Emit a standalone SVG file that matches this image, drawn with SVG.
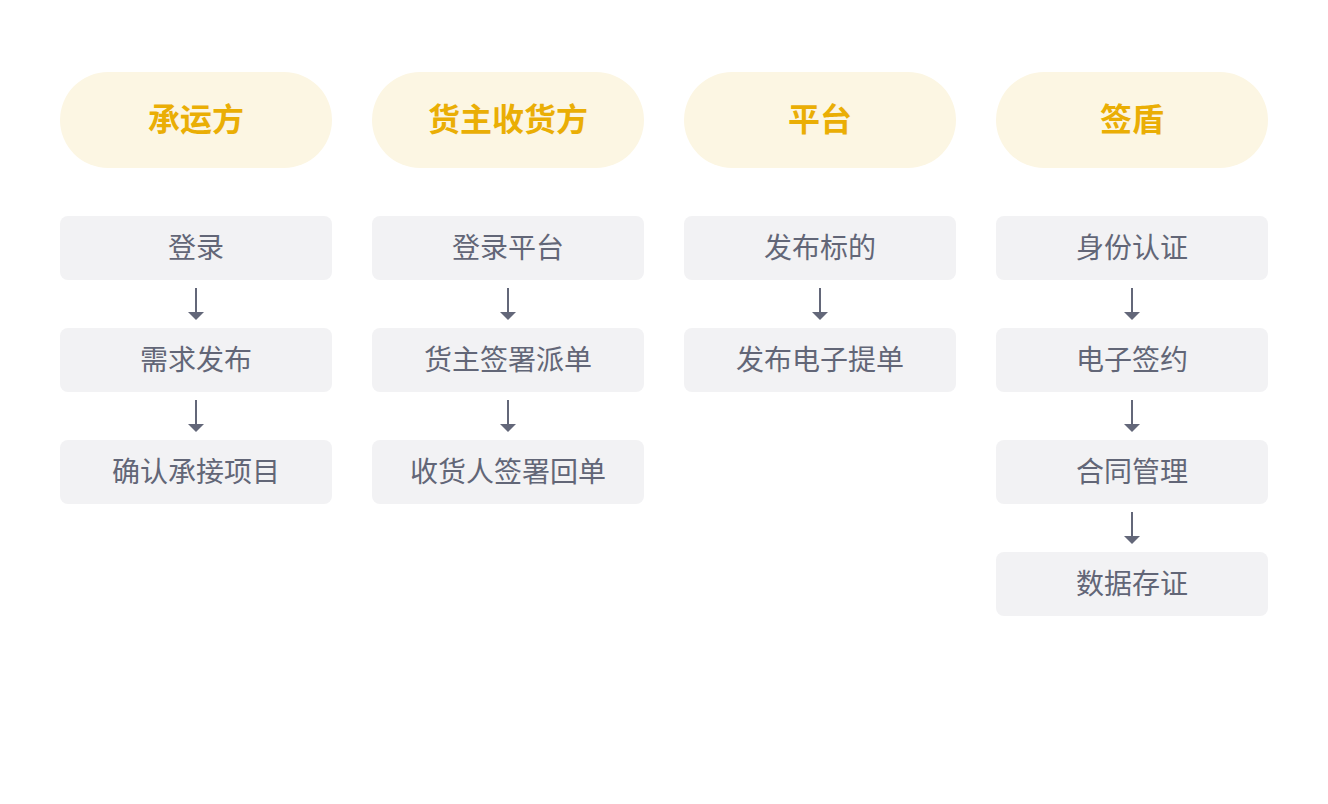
<svg xmlns="http://www.w3.org/2000/svg" width="1328" height="804" viewBox="0 0 1328 804">
<defs>
<style>
.hdr{fill:#FCF6E3}
.hdrt{font-family:"Noto Sans CJK SC","Noto Sans",sans-serif;font-size:32px;font-weight:700;fill:#EAAE05;text-anchor:middle;dominant-baseline:central}
.box{fill:#F2F2F4}
.bt{font-family:"Noto Sans CJK SC","Noto Sans",sans-serif;font-size:28px;fill:#626677;text-anchor:middle;dominant-baseline:central}
.ln{stroke:#636779;stroke-width:2;fill:none}
</style>
<marker id="ah" markerWidth="8" markerHeight="16" refX="0" refY="8" viewBox="0 0 8 16" orient="auto" markerUnits="userSpaceOnUse">
<path d="M0,0 L8,8 L0,16 Z" fill="#636779"/>
</marker>
</defs>
<rect width="1328" height="804" fill="#FFFFFF"/>
<g id="col1">
<g id="h1"><rect class="hdr" x="60" y="72" width="272" height="96" rx="48"/><text class="hdrt" x="196" y="117">承运方</text></g>
<g id="n1a"><rect class="box" x="60" y="216" width="272" height="64" rx="8"/><text class="bt" x="196" y="246">登录</text></g>
<g id="n1b"><rect class="box" x="60" y="328" width="272" height="64" rx="8"/><text class="bt" x="196" y="358">需求发布</text></g>
<g id="n1c"><rect class="box" x="60" y="440" width="272" height="64" rx="8"/><text class="bt" x="196" y="470">确认承接项目</text></g>
</g>
<g id="col2">
<g id="h2"><rect class="hdr" x="372" y="72" width="272" height="96" rx="48"/><text class="hdrt" x="508" y="117">货主收货方</text></g>
<g id="n2a"><rect class="box" x="372" y="216" width="272" height="64" rx="8"/><text class="bt" x="508" y="246">登录平台</text></g>
<g id="n2b"><rect class="box" x="372" y="328" width="272" height="64" rx="8"/><text class="bt" x="508" y="358">货主签署派单</text></g>
<g id="n2c"><rect class="box" x="372" y="440" width="272" height="64" rx="8"/><text class="bt" x="508" y="470">收货人签署回单</text></g>
</g>
<g id="col3">
<g id="h3"><rect class="hdr" x="684" y="72" width="272" height="96" rx="48"/><text class="hdrt" x="820" y="117">平台</text></g>
<g id="n3a"><rect class="box" x="684" y="216" width="272" height="64" rx="8"/><text class="bt" x="820" y="246">发布标的</text></g>
<g id="n3b"><rect class="box" x="684" y="328" width="272" height="64" rx="8"/><text class="bt" x="820" y="358">发布电子提单</text></g>
</g>
<g id="col4">
<g id="h4"><rect class="hdr" x="996" y="72" width="272" height="96" rx="48"/><text class="hdrt" x="1132" y="117">签盾</text></g>
<g id="n4a"><rect class="box" x="996" y="216" width="272" height="64" rx="8"/><text class="bt" x="1132" y="246">身份认证</text></g>
<g id="n4b"><rect class="box" x="996" y="328" width="272" height="64" rx="8"/><text class="bt" x="1132" y="358">电子签约</text></g>
<g id="n4c"><rect class="box" x="996" y="440" width="272" height="64" rx="8"/><text class="bt" x="1132" y="470">合同管理</text></g>
<g id="n4d"><rect class="box" x="996" y="552" width="272" height="64" rx="8"/><text class="bt" x="1132" y="582">数据存证</text></g>
</g>
<g id="connectors">
<line class="ln" x1="196" y1="288" x2="196" y2="312" marker-end="url(#ah)"/>
<line class="ln" x1="196" y1="400" x2="196" y2="424" marker-end="url(#ah)"/>
<line class="ln" x1="508" y1="288" x2="508" y2="312" marker-end="url(#ah)"/>
<line class="ln" x1="508" y1="400" x2="508" y2="424" marker-end="url(#ah)"/>
<line class="ln" x1="820" y1="288" x2="820" y2="312" marker-end="url(#ah)"/>
<line class="ln" x1="1132" y1="288" x2="1132" y2="312" marker-end="url(#ah)"/>
<line class="ln" x1="1132" y1="400" x2="1132" y2="424" marker-end="url(#ah)"/>
<line class="ln" x1="1132" y1="512" x2="1132" y2="536" marker-end="url(#ah)"/>
</g>
</svg>
